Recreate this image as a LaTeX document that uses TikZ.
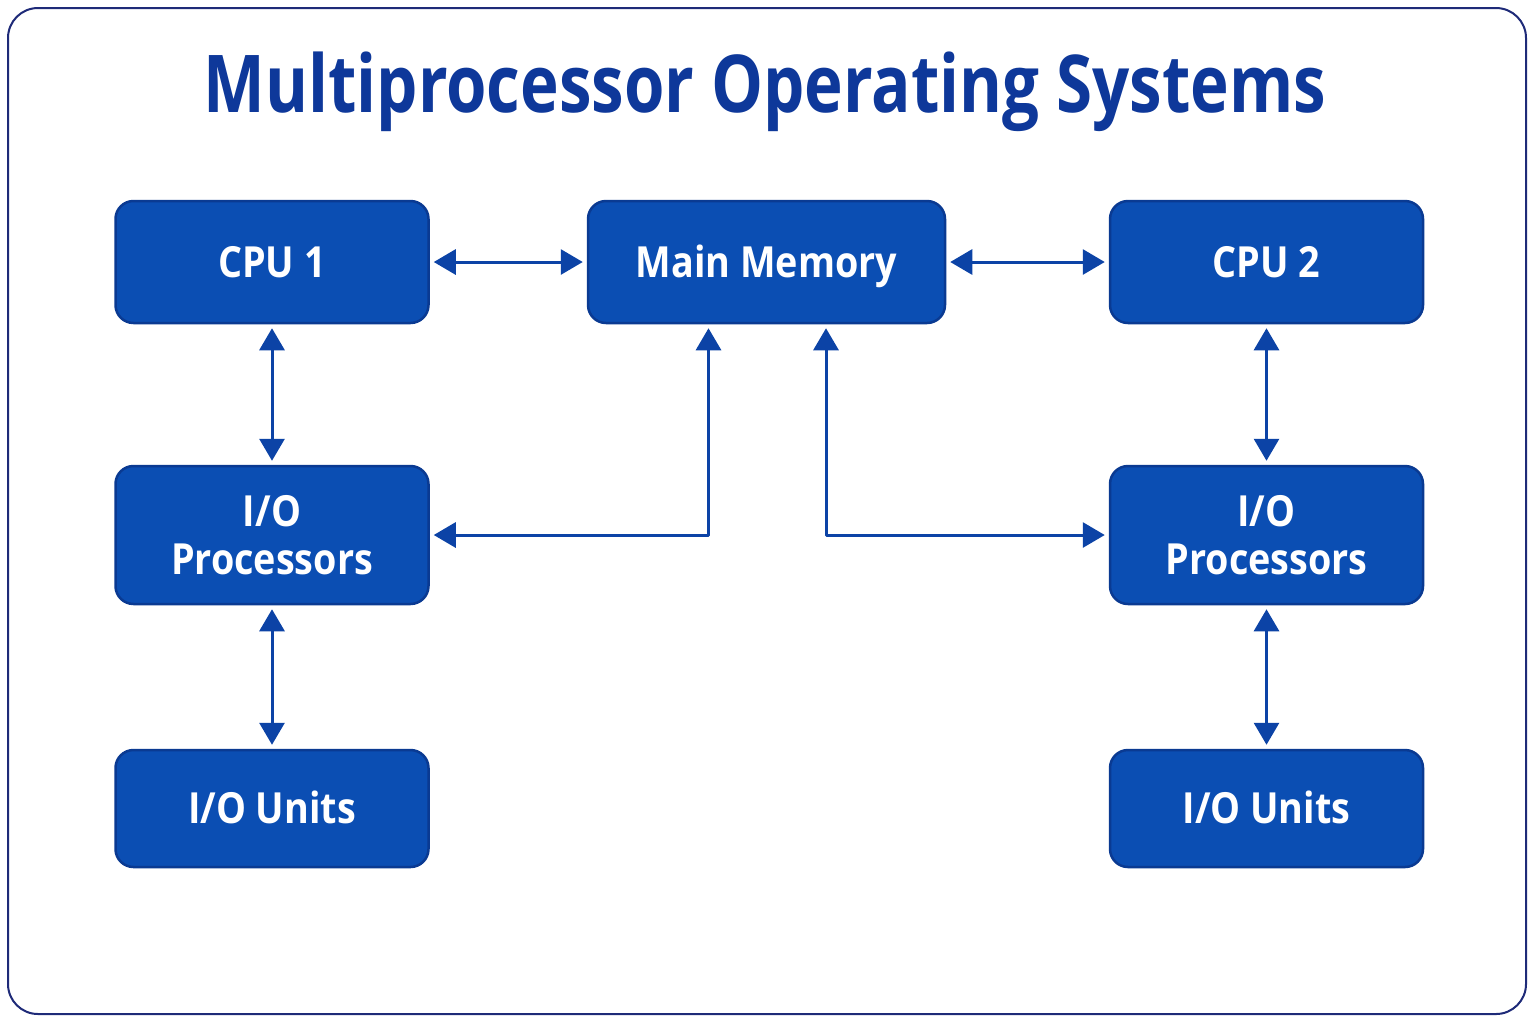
\documentclass[tikz,border=0pt]{standalone}
\usepackage{fontspec}
\setmainfont{Open Sans}
\newfontfamily\headfont[FakeStretch=0.82]{Open Sans}
\newfontfamily\unitfont[FakeStretch=0.88]{Open Sans}
\usetikzlibrary{arrows.meta}
\definecolor{boxblue}{HTML}{0B4EB3}
\definecolor{boxedge}{HTML}{0A3A92}
\definecolor{linkblue}{HTML}{0C43A6}
\definecolor{titleblue}{HTML}{0E389A}
\definecolor{frameblue}{HTML}{1E2A78}
\begin{document}
\begin{tikzpicture}[line cap=round,line join=round,
  unit/.style={draw=boxedge,line width=0.025cm,fill=boxblue,rounded corners=0.18cm,
    minimum width=3.13cm,minimum height=1.22cm,inner sep=0pt,text=white,
    font=\unitfont\fontsize{12.2}{13.6}\selectfont\bfseries,align=center,
    text height=0.3cm,text depth=0cm},
  link/.style={draw=linkblue,line width=0.03cm,
    {Triangle[length=0.22cm,width=0.25cm]}-{Triangle[length=0.22cm,width=0.25cm]},
    shorten <=0.04cm,shorten >=0.04cm}]
  \useasboundingbox (0,0) rectangle (15.36,-10.24);
  \draw[frameblue,line width=0.02cm,rounded corners=0.3cm,fill=white] (0.08,-0.08) rectangle (15.26,-10.14);
  \node[font=\headfont\fontsize{22.7}{26}\selectfont\bfseries,text=titleblue,anchor=base] (title) at (7.65,-1.12) {Multiprocessor Operating Systems};
  \node[unit] (cpuA) at (2.72,-2.62) {CPU 1};
  \node[unit,minimum width=3.57cm] (mem) at (7.665,-2.62) {Main Memory};
  \node[unit] (cpuB) at (12.665,-2.62) {CPU 2};
  \node[unit,minimum height=1.38cm,text height=,text depth=] (iopA) at (2.72,-5.35) {I/O\\Processors};
  \node[unit,minimum height=1.38cm,text height=,text depth=] (iopB) at (12.665,-5.35) {I/O\\Processors};
  \node[unit,minimum height=1.17cm] (ioA) at (2.72,-8.085) {I/O Units};
  \node[unit,minimum height=1.17cm] (ioB) at (12.665,-8.085) {I/O Units};
  \coordinate (memA) at ([xshift=-0.58cm]mem.south);
  \coordinate (memB) at ([xshift=0.595cm]mem.south);
  \draw[link] (cpuA) -- (mem);
  \draw[link] (mem) -- (cpuB);
  \draw[link] (cpuA) -- (iopA);
  \draw[link] (cpuB) -- (iopB);
  \draw[link] (iopA) -- (ioA);
  \draw[link] (iopB) -- (ioB);
  \draw[link] (iopA.east) -| (memA);
  \draw[link] (iopB.west) -| (memB);
\end{tikzpicture}
\end{document}
